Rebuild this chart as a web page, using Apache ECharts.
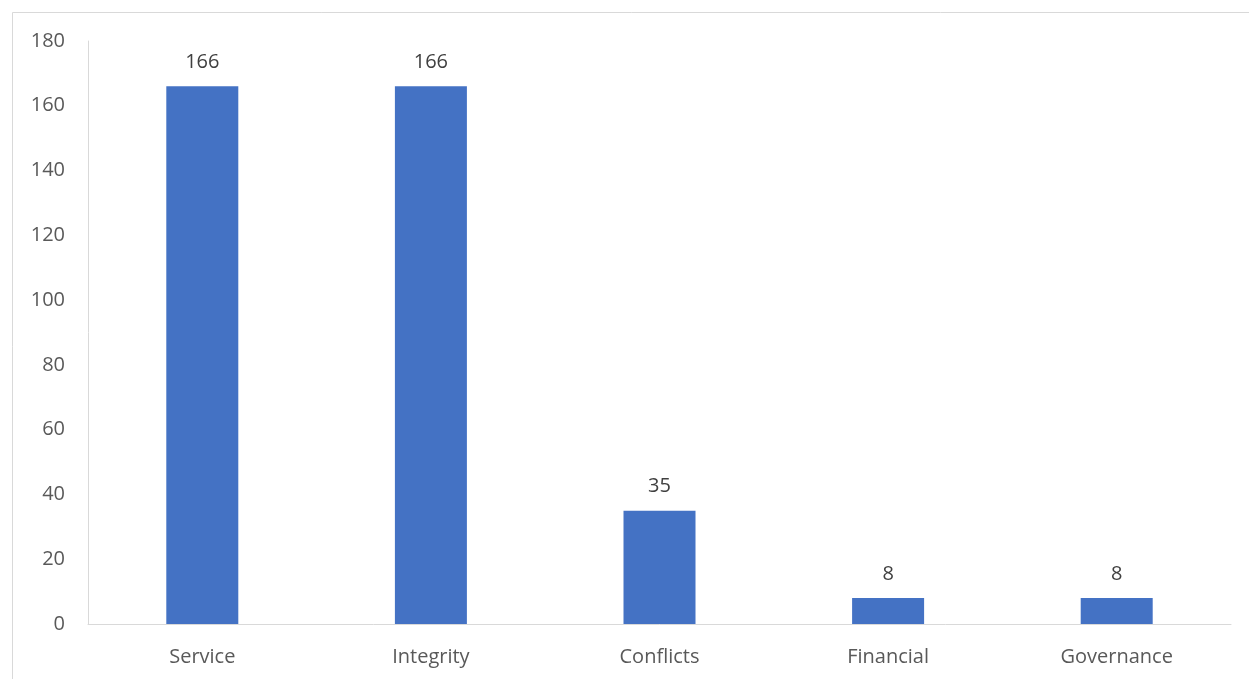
<!DOCTYPE html>
<html>
<head>
<meta charset="utf-8">
<script src="https://cdn.jsdelivr.net/npm/echarts@6/dist/echarts.min.js"></script>
<style>
  html, body { margin: 0; padding: 0; background: #fff; }
  #chart { width: 1249px; height: 679px; }
</style>
</head>
<body>
<div id="chart"></div>
<script>
// Counts per category
const categories = ['Service', 'Integrity', 'Conflicts', 'Financial', 'Governance'];
const counts = [166, 166, 35, 8, 8];

const font = '"Open Sans", Lato, sans-serif';
const chart = echarts.init(document.getElementById('chart'));
chart.setOption({
  animation: false,
  backgroundColor: '#ffffff',
  graphic: [{
    type: 'rect',
    shape: { x: 12.5, y: 12.5, width: 1400, height: 1400 },
    style: { fill: 'none', stroke: '#d9d9d9', lineWidth: 1 },
    silent: true
  }],
  grid: { left: 88, right: 18, top: 41, bottom: 55, containLabel: false },
  xAxis: {
    type: 'category',
    data: categories,
    axisLine: { lineStyle: { color: '#d9d9d9', width: 1 } },
    axisTick: { show: false },
    axisLabel: { color: '#595959', fontSize: 20, fontFamily: font, margin: 23 }
  },
  yAxis: {
    type: 'value',
    min: 0, max: 180, interval: 20,
    axisLine: { show: true, lineStyle: { color: '#d9d9d9', width: 1 } },
    axisTick: { show: false },
    splitLine: { show: false },
    axisLabel: { color: '#595959', fontSize: 20, fontFamily: font, margin: 23 }
  },
  series: [{
    type: 'bar',
    data: counts,
    barWidth: 72,
    itemStyle: { color: '#4472c4' },
    label: {
      show: true, position: 'top', distance: 14,
      color: '#404040', fontSize: 20, fontFamily: font
    }
  }]
});
</script>
</body>
</html>
